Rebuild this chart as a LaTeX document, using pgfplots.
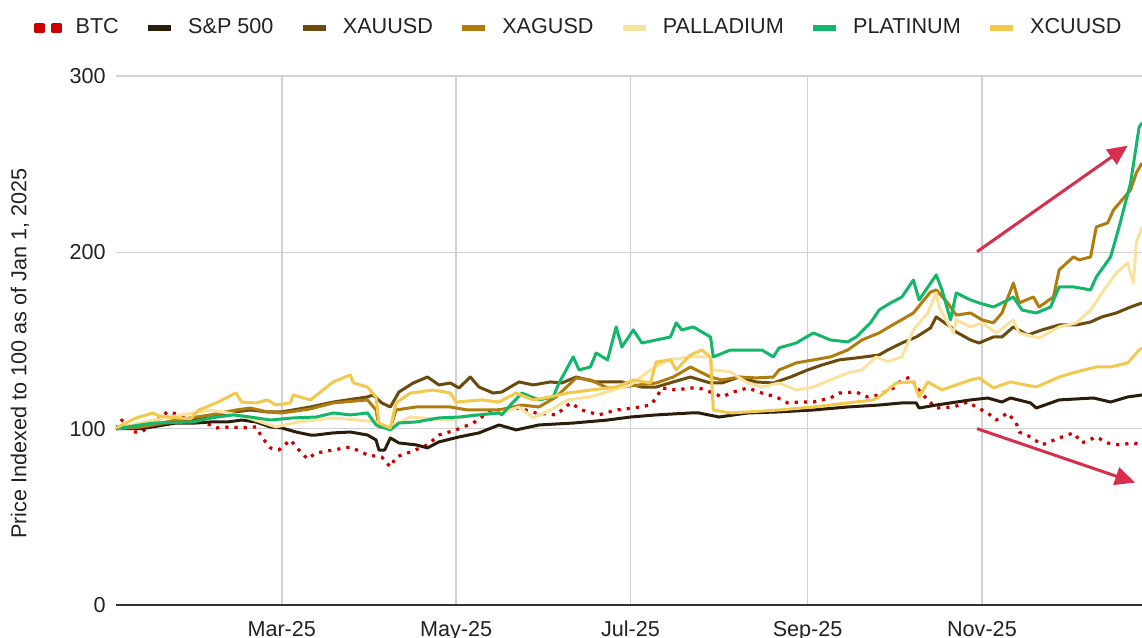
\documentclass[border=0pt]{standalone}
\usepackage{fontspec}
\setmainfont{Liberation Sans}
\usepackage{pgfplots}
\pgfplotsset{compat=1.18}
\usetikzlibrary{arrows.meta}

\definecolor{btcred}{HTML}{CC0000}
\definecolor{spx}{HTML}{2B1D0A}
\definecolor{xau}{HTML}{6B4A0D}
\definecolor{xag}{HTML}{B07C10}
\definecolor{pall}{HTML}{F8E29E}
\definecolor{plat}{HTML}{12B76A}
\definecolor{xcu}{HTML}{F2C94C}
\definecolor{arrowred}{HTML}{D72E4E}
\definecolor{gridgray}{HTML}{D0D0D0}
\definecolor{axisgray}{HTML}{333333}
\definecolor{labelgray}{HTML}{222222}

\newcommand{\chartfont}{\fontsize{10.8}{13}\selectfont}

\begin{document}
\begin{tikzpicture}
\begin{axis}[
  scale only axis, width=513pt, height=264.5pt,
  at={(0,0)}, anchor=south west,
  xmin=1, xmax=360, ymin=0, ymax=300,
  xtick={59,120,181,243,304},
  xticklabels={Mar-25,May-25,Jul-25,Sep-25,Nov-25},
  ytick={0,100,200,300},
  axis x line=bottom, axis y line=left,
  x axis line style={-, draw=axisgray, line width=1pt},
  y axis line style={draw=none},
  major tick length=0pt,
  grid=major, major grid style={draw=gridgray, line width=0.8pt},
  tick label style={font=\chartfont, text=labelgray},
  /pgf/number format/assume math mode=true,
  yticklabel style={anchor=east, inner sep=0pt, xshift=-5pt},
  xticklabel style={anchor=north, inner sep=0pt, yshift=-7.5pt, text height=7.8pt, text depth=2pt},
  ylabel={Price Indexed to 100 as of Jan 1, 2025},
  ylabel style={font=\chartfont, text=labelgray, at={(axis description cs:-0.0936,0.475)}, anchor=center},
  legend columns=-1,
  legend style={at={(-0.0799,1.0945)}, anchor=west, draw=none, fill=none,
    font=\chartfont, text=labelgray, inner sep=0pt,
    nodes={inner sep=0pt, text height=7.8pt, text depth=0pt, anchor=base west},
    /tikz/every odd column/.style={column sep=7pt},
    /tikz/every even column/.style={column sep=13pt}},
  legend image code/.code={\draw[line width=3.2pt] (0pt,2.8pt) -- (11.5pt,2.8pt);},
  every axis plot/.append style={line join=round},
]

% BTC
\addplot[btcred, line width=1.6pt, dash pattern=on 1.6pt off 3pt,
  legend image code/.code={\fill[btcred, solid] (0pt,1.05pt) rectangle (3.5pt,4.55pt);
    \fill[btcred, solid] (8.5pt,1.05pt) rectangle (12pt,4.55pt);}]
coordinates {(1,100) (3,104.9) (7,98.1) (10,98.1) (19,109.5) (24,107.8) (29,104.9) (34,102.1) (36,100.4) (41,101) (45,100.4) (50,101) (52,95.3) (55,89.1) (58,87.9) (62,93.6) (65,87.9) (68,82.8) (71,86.2) (77,87.9) (83,89.6) (89,85.1) (94,83.9) (97,78.3) (99,83.9) (104,86.8) (110,90.8) (114,96.4) (120,99.3) (126,103.2) (131,108.9) (135,110.6) (142,111.7) (148,108.9) (155,107.8) (160,114.6) (164,110.6) (170,107.8) (176,110.6) (182,111.7) (188,113.4) (190,117.4) (192,123.1) (197,121.9) (202,123.1) (205,123.1) (210,120.2) (213,118) (217,120.8) (222,123.1) (227,120.2) (232,118) (236,114.6) (240,115.1) (245,115.1) (251,117.4) (254,120.2) (260,120.8) (264,118) (268,119.1) (273,123.1) (276,127.6) (279,129.3) (281,123.6) (285,116.3) (288,111.7) (294,112.3) (299,115.1) (302,112.3) (306,108.9) (309,104.9) (313,108.9) (316,103.2) (317,98.1) (321,95.3) (325,90.8) (331,94.7) (336,97.6) (339,91.9) (344,95.3) (348,91.9) (352,90.8) (357,91.9) (360,90.8)};
\addlegendentry{BTC}

% S&P 500
\addplot[spx, line width=1.5pt]
coordinates {(1,100) (10,100) (22,103.2) (29,103.2) (34,103.8) (40,103.8) (45,104.9) (50,103.8) (55,101) (59,100.4) (64,98.1) (69,96.4) (71,96.4) (77,97.6) (83,98.1) (89,96.4) (92,93.6) (93,87.9) (95,87.9) (97,94.7) (100,91.9) (106,90.8) (110,89.1) (114,92.5) (121,95.3) (128,97.6) (135,102.1) (141,99.3) (149,102.1) (161,103.2) (173,104.9) (181,106.6) (190,107.8) (202,108.9) (205,108.9) (212,106.6) (222,108.9) (233,109.5) (245,110.6) (257,112.3) (268,113.4) (276,114.6) (281,114.6) (282,111.7) (288,113.4) (300,116.3) (306,117.4) (311,115.1) (314,117.4) (321,114.6) (323,111.7) (331,116.3) (343,117.4) (349,115.1) (355,118) (360,119.1)};
\addlegendentry{S\&P 500}

% XAUUSD
\addplot[xau, line width=1.5pt]
coordinates {(1,100) (10,101) (22,103.8) (34,106.1) (40,108.9) (48,110.6) (54,109.5) (59,109.5) (69,112.3) (77,115.1) (89,118) (91,119.1) (94,114.6) (97,112.3) (100,120.8) (105,125.9) (110,129.3) (114,124.8) (118,125.9) (121,123.1) (125,129.3) (128,123.6) (133,120.2) (136,120.8) (142,126.5) (147,124.8) (153,126.5) (157,125.9) (162,129.3) (169,126.5) (178,126.5) (185,123.6) (190,123.6) (196,126.5) (202,129.3) (209,125.9) (213,125.9) (219,129.3) (225,126.5) (231,125.9) (237,129.3) (243,133.3) (248,136.1) (254,139) (260,140.1) (268,141.8) (271,144.6) (276,148.6) (281,152) (286,157.1) (288,163.4) (293,157.7) (295,154.8) (300,150.3) (303,148.6) (308,152) (311,152) (315,157.7) (320,153.1) (325,156) (331,158.8) (337,158.8) (342,160.5) (346,163.4) (351,165.6) (356,169) (360,171.3)};
\addlegendentry{XAUUSD}

% XAGUSD
\addplot[xag, line width=1.5pt]
coordinates {(1,100) (10,101) (22,104.9) (34,107.8) (43,110.6) (48,111.7) (54,109.5) (59,108.9) (69,111.2) (77,114.6) (89,116.3) (92,110.6) (93,101) (97,100.4) (99,110.6) (106,112.3) (118,112.3) (124,110.6) (135,110.6) (143,113.4) (149,112.3) (155,118) (162,128.8) (167,127.6) (173,123.1) (178,123.6) (184,124.8) (190,125.9) (196,129.3) (202,135) (209,129.3) (213,127.6) (219,129.3) (225,128.8) (231,129.3) (233,133.3) (239,137.3) (245,139) (251,140.7) (257,144.6) (262,150.3) (268,154.3) (274,160) (280,165.6) (286,177.5) (288,178.7) (292,171.3) (295,164.4) (300,165.6) (304,161.7) (308,160) (311,165.6) (315,182.6) (317,171.3) (322,174.7) (324,169) (329,174.7) (331,190) (336,197.4) (338,195.7) (342,197.4) (344,214.4) (348,216.7) (350,224) (353,229.7) (356,235.4) (358,245) (360,250.7)};
\addlegendentry{XAGUSD}

% PALLADIUM
\addplot[pall, line width=1.5pt]
coordinates {(1,100) (14,104.9) (28,108.9) (34,110.6) (44,107.8) (57,101) (65,103.8) (77,106.1) (86,104.9) (92,103.8) (96,100.4) (104,106.6) (118,104.9) (126,107.8) (135,108.9) (139,110.6) (142,112.3) (147,106.1) (153,110.6) (159,116.3) (167,118) (175,121.9) (181,124.8) (188,133.3) (194,139) (202,140.7) (209,140.7) (210,133.3) (216,132.2) (222,125.9) (227,123.6) (233,125.9) (239,121.9) (245,123.6) (251,127.6) (257,131.6) (262,133.3) (267,140.7) (271,138) (276,140.7) (280,156) (285,165.6) (288,177) (289,169) (292,160) (294,154.3) (295,161.7) (300,157.7) (304,160) (309,154.3) (315,161.7) (317,154.3) (324,151.4) (331,157.7) (337,160) (342,167.3) (346,177) (351,188.3) (355,194) (357,182.6) (358,205.3) (360,214.4)};
\addlegendentry{PALLADIUM}

% PLATINUM
\addplot[plat, line width=1.5pt]
coordinates {(1,100) (14,103.2) (28,103.8) (34,106.1) (42,107.8) (48,106.6) (55,104.9) (63,106.1) (71,106.6) (77,108.9) (83,107.8) (89,108.9) (92,102.1) (97,99.3) (100,103.2) (106,103.8) (114,106.1) (121,106.6) (128,107.8) (135,108.9) (136,107.8) (139,113.4) (143,120.2) (149,116.3) (154,118) (156,125.9) (161,140.7) (163,133.3) (167,135) (169,142.9) (173,139) (176,157.7) (178,146.3) (182,156) (185,148.6) (190,150.3) (195,152) (197,160) (199,156) (203,157.7) (209,152) (210,140.7) (216,144.6) (222,144.6) (227,144.6) (231,140.7) (233,145.8) (239,148.6) (245,154.3) (251,150.3) (257,149.2) (260,152) (265,160) (268,167.3) (272,171.3) (276,174.7) (280,184.3) (282,173) (288,187.2) (290,178.7) (293,161.7) (295,177) (300,173) (303,171.3) (308,169) (311,171.3) (315,174.7) (318,167.3) (323,165.6) (328,169) (331,180.4) (336,180.4) (342,178.7) (344,186) (349,197.4) (352,214.4) (356,239.4) (359,271.1) (360,273.4)};
\addlegendentry{PLATINUM}

% XCUUSD
\addplot[xcu, line width=1.5pt]
coordinates {(1,100.4) (8,106.1) (14,108.9) (16,107.2) (27,105.5) (30,110.6) (36,114.6) (43,120.2) (45,115.1) (50,114.6) (54,116.3) (57,113.4) (62,114.6) (63,119.1) (69,116.3) (77,126.5) (83,130.5) (84,126) (89,123.6) (92,118) (93,103.2) (97,100.4) (99,114.6) (104,120.2) (112,121.9) (118,120.2) (120,115.1) (129,116.3) (135,115.1) (141,120.2) (147,116.3) (153,118) (159,120.2) (167,121.9) (176,123.6) (182,127.6) (188,125.9) (190,137.8) (195,139) (197,133.3) (202,141.8) (206,144.6) (209,140.7) (210,110.6) (216,108.9) (222,109.5) (233,110.6) (245,112.3) (257,114.6) (266,116.3) (268,118) (274,125.9) (280,126.5) (282,118) (285,126.5) (290,122) (300,127.6) (303,128.8) (308,123.1) (314,126.5) (323,123.6) (331,129.3) (337,132.2) (344,135) (349,135) (355,137.3) (359,144.6) (360,145.8)};
\addlegendentry{XCUUSD}

% annotation arrows
\draw[arrowred, line width=1.5pt, -{Triangle[length=10pt,width=9pt]}]
  (axis cs:302.3,200.4) -- (axis cs:355,260.5);
\draw[arrowred, line width=1.5pt, -{Triangle[length=10pt,width=9pt]}]
  (axis cs:302.3,100) -- (axis cs:357.6,69.4);
\end{axis}
\pgfresetboundingbox
\path (-58pt,-16.5pt) rectangle (513pt,302.5pt);
\end{tikzpicture}
\end{document}
